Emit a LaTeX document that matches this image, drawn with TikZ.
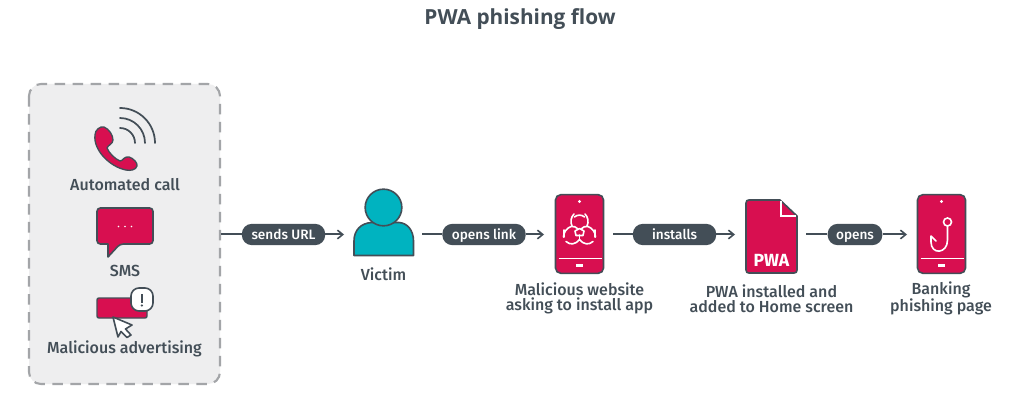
\documentclass[tikz,border=0pt]{standalone}
\usepackage{fontspec}
\setmainfont[BoldFont={Fira Sans Medium}]{Fira Sans}
\newfontfamily\titlefont[BoldFont={Open Sans Bold}]{Open Sans}
\newfontfamily\badgefont{Fira Sans Bold}
\usetikzlibrary{arrows.meta}
\definecolor{ink}{HTML}{434E57}
\definecolor{crimson}{HTML}{D80F50}
\definecolor{teal1}{HTML}{00B3C0}
\definecolor{panel}{HTML}{EEEEEF}
\definecolor{dashgray}{HTML}{A3A5A8}
\tikzset{
  x=0.75pt,y=-0.75pt,
  lbl/.style={text=ink,font=\fontsize{12}{11.3}\selectfont\bfseries,align=center,inner sep=0pt},
  pill/.style={fill=ink,text=white,rounded corners=7.5pt,minimum height=16pt,inner sep=0pt,text height=9.5pt,text depth=1.5pt,font=\fontsize{10.2}{10}\selectfont\bfseries},
  plainline/.style={draw=ink,line width=1.5pt},
  conn/.style={draw=ink,line width=1.5pt,-{Straight Barb[length=4pt,width=6.5pt,line width=1.2pt]}},
  devbody/.style={fill=crimson,draw=ink,line width=1.2pt,rounded corners=4pt},
  detail/.style={draw=white,line width=1.2pt},
  signal/.style={draw=ink,line width=1.3pt,line cap=round},
}
\begin{document}
\begin{tikzpicture}
\useasboundingbox (0,0) rectangle (1013,413);
\fill[white] (0,0) rectangle (1013,413);
\node[text=ink,font=\titlefont\fontsize{15.6}{16}\selectfont\bfseries,inner sep=0pt] (title) at (520,19) {PWA phishing flow};

% source panel
\draw[fill=panel,draw=dashgray,line width=1.6pt,dash pattern=on 8pt off 5.5pt,rounded corners=9pt] (29,84) rectangle (220,384);
\coordinate (panelE) at (221,234.5);

% handset and signal arcs
\fill[crimson,draw=ink,line width=1pt,line join=round]
  (95,135) .. controls (95,130) and (100,126) .. (104,127)
  .. controls (109,129) and (113,135) .. (113,140)
  .. controls (113,144) and (108,145) .. (107,148)
  .. controls (109,153) and (115,159) .. (120,161)
  .. controls (123,161) and (124,156) .. (129,157)
  .. controls (133,158) and (138,163) .. (137,166)
  .. controls (136,170) and (130,171) .. (126,170)
  .. controls (110,167) and (93,150) .. (95,135) -- cycle;
\draw[signal] (120,128) arc[start angle=-90,end angle=0,radius=15];
\draw[signal] (120,118) arc[start angle=-90,end angle=0,radius=25];
\draw[signal] (120,108) arc[start angle=-90,end angle=0,radius=35];
\node[lbl] (call) at (125,185) {Automated call};

% message bubble
\fill[crimson,draw=ink,line width=1.2pt,rounded corners=2.5pt,line join=round]
  (97,208) -- (153,208) -- (153,244) -- (120,244) [sharp corners] -- (108,257) -- (108,244) [rounded corners=2.5pt] -- (97,244) -- cycle;
\fill[white] (118.5,226.5) circle[radius=0.9] (125,226.5) circle[radius=0.9] (131.5,226.5) circle[radius=0.9];
\node[lbl] (sms) at (125,271) {SMS};

% advert banner with alert badge and cursor
\fill[crimson,draw=ink,line width=1.1pt,rounded corners=1.5pt] (97,298) rectangle (147,318);
\draw[fill=white,draw=ink,line width=1.2pt,rounded corners=6pt] (131,288) rectangle (153,311);
\fill[ink] (141,293.5) rectangle (142.6,302.5);
\fill[ink] (141.8,305.5) circle[radius=1.2];
\draw[fill=white,draw=ink,line width=1.2pt,line join=round]
  (113,317) -- (132,325) -- (125.5,329) -- (131,335) -- (127,337.5) -- (121,331.5) -- (118,337) -- cycle;
\node[lbl] (ads) at (124.5,349) {Malicious advertising};

% victim
\fill[teal1,draw=ink,line width=1.2pt,line join=round]
  (354,255.5) -- (354,241) .. controls (354,230) and (361,223) .. (372,222.5)
  -- (399,222.5) .. controls (407,223) and (413.5,230) .. (413.5,241) -- (413.5,255.5) -- cycle;
\node[circle,fill=teal1,draw=ink,line width=1.2pt,minimum size=27.5pt,inner sep=0pt] (victimhead) at (383.5,207.5) {};
\coordinate (victimW) at (344,234.5);
\coordinate (victimE) at (422,234.5);
\node[lbl] (victim) at (383.5,274) {Victim};

% phone with biohazard symbol
\node[devbody,minimum width=36pt,minimum height=59pt,inner sep=0pt] (malsite) at (579.5,234) {};
\coordinate (malW) at (544,234.5);
\coordinate (malE) at (613,234.5);
\fill[white] (579.5,201.5) circle[radius=1.7];
\draw[detail] (558.5,258.5) -- (602,258.5);
\draw[detail,line width=1.7pt] (576,265.5) -- (583,265.5);
\begin{scope}[detail,line cap=round,line join=round]
% upper lobe
\draw (572,226) .. controls (570,222) and (571,217) .. (574,214);
\draw (587,226) .. controls (589,222) and (588,217) .. (585,214);
\draw (574.5,217) .. controls (577,214.5) and (582,214.5) .. (584.5,217);
% left lobe
\draw (563.5,237) .. controls (563.5,232) and (567,228) .. (571,226.5) .. controls (574,226) and (576,227) .. (578,229);
% right lobe
\draw (595.5,237) .. controls (595.5,232) and (592,228) .. (588,226.5) .. controls (585,226) and (583,227) .. (581,229);
\draw (564,237) -- (564,230);
\draw (595,237) -- (595,230);
% lower lobes
\draw (566,241.5) .. controls (570,245) and (575,245) .. (579.5,239.5) .. controls (584,245) and (589,245) .. (593,241.5);
% central hub
\draw (579.5,239.5) -- (579.5,235);
\draw (575,231) -- (579.5,228.5) -- (584,231) -- (583,235.5) -- (576,235.5) -- cycle;
\end{scope}

% PWA document
\fill[crimson,draw=ink,line width=1.2pt,line join=round]
  (749,200) -- (780,200) -- (797,216) -- (797,270) .. controls (797,272) and (796,273) .. (794,273)
  -- (749,273) .. controls (747,273) and (746,272) .. (746,270) -- (746,203) .. controls (746,201) and (747,200) .. (749,200) -- cycle;
\draw[white,line width=1.4pt] (781,201) -- (781,216) -- (796,216);
\node[text=white,inner sep=0pt,font=\badgefont\fontsize{13.2}{13}\selectfont] (pwa) at (771.5,260) {PWA};
\coordinate (docW) at (735,234.5);
\coordinate (docE) at (806,234.5);

% phone with fish hook
\node[devbody,minimum width=36pt,minimum height=59pt,inner sep=0pt] (bank) at (941.5,234) {};
\coordinate (bankW) at (907,234.5);
\fill[white] (941.5,201.5) circle[radius=1.7];
\draw[detail] (920.5,258.5) -- (964,258.5);
\draw[detail,line width=1.7pt] (938,265.5) -- (945,265.5);
\draw[detail] (947.5,222) circle[radius=4];
\draw[detail,line cap=round,line join=round]
  (947.5,226) -- (947.5,240) .. controls (947.5,254) and (931,255) .. (931,242)
  -- (931,236) -- (936,241);

% flow connectors with pill labels
\node[pill,minimum width=62.5pt] (p1) at (283.5,234.5) {sends URL};
\node[pill,minimum width=62.5pt] (p2) at (484,234.5) {opens link};
\node[pill,minimum width=62.5pt] (p3) at (674.5,234.5) {installs};
\node[pill,minimum width=41pt] (p4) at (855,234.5) {opens};
\draw[plainline] (panelE) -- (p1);
\draw[conn] (p1) -- (victimW);
\draw[plainline] (victimE) -- (p2);
\draw[conn] (p2) -- (malW);
\draw[plainline] (malE) -- (p3);
\draw[conn] (p3) -- (docW);
\draw[plainline] (docE) -- (p4);
\draw[conn] (p4) -- (bankW);

\node[lbl] (l1) at (579.5,298.5) {Malicious website\\asking to install app};
\node[lbl] (l2) at (771.5,298.5) {PWA installed and\\added to Home screen};
\node[lbl] (l3) at (941,298.5) {Banking\\phishing page};
\end{tikzpicture}
\end{document}
